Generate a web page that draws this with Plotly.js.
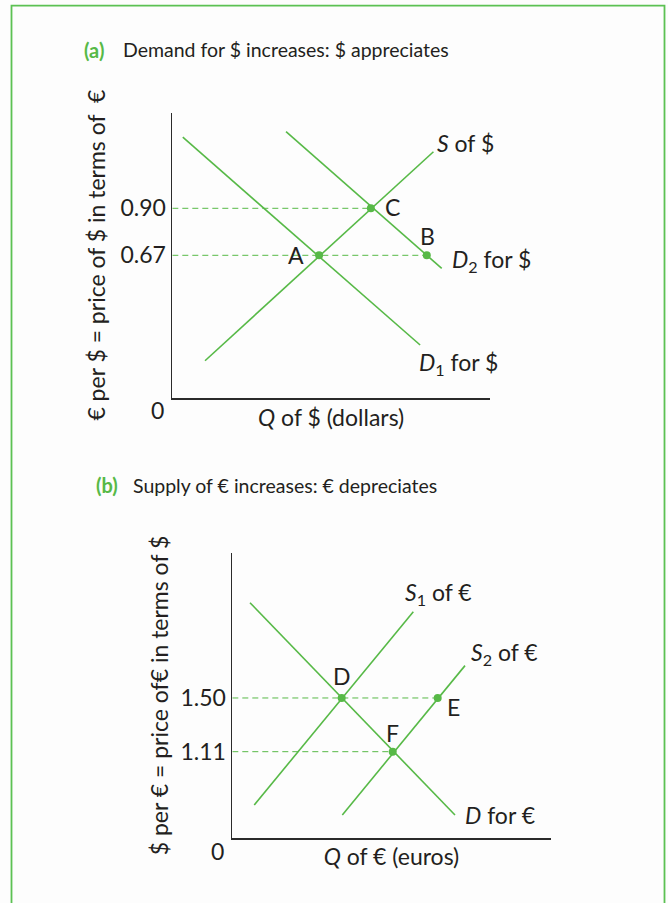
<!DOCTYPE html>
<html><head><meta charset="utf-8">
<script src="https://cdn.plot.ly/plotly-3.0.1.min.js"></script>
<style>html,body{margin:0;padding:0;background:#fdfdfd}</style>
</head><body><div id="chart" style="width:668px;height:903px"></div>
<script>
// ---------- Panel (a): market for dollars ----------
const aTitle = 'Demand for $ increases: $ appreciates';
const aSupplyQ = [1.03, 8.22], aSupplyP = [0.154, 1.177];
const aD1Q = [0.33, 7.80], aD1P = [1.248, 0.231];
const aD2Q = [3.58, 8.48], aD2P = [1.275, 0.606];
const aPointNames = ['A', 'C', 'B'];
const aPointQ = [4.62, 6.25, 8.01];
const aPointP = [0.67, 0.90, 0.67];
const aTickVals = [0.67, 0.90];
const aTickText = ['0.67', '0.90'];
const aCurveLabels = ['<i>S</i> of $', '<i>D</i><sub>2</sub> for $', '<i>D</i><sub>1</sub> for $'];
const aCurveLabelQ = [8.27, 8.74, 7.69];
const aCurveLabelP = [1.22, 0.647, 0.141];

// ---------- Panel (b): market for euros ----------
const bTitle = 'Supply of € increases: € depreciates';
const bS1Q = [0.69, 5.685], bS1P = [0.723, 2.127];
const bS2Q = [3.455, 7.308], bS2P = [0.65, 1.735];
const bDQ = [0.556, 6.994], bDP = [2.192, 0.65];
const bPointNames = ['D', 'E', 'F'];
const bPointQ = [3.436, 6.451, 5.038];
const bPointP = [1.50, 1.50, 1.11];
const bTickVals = [1.11, 1.50];
const bTickText = ['1.11', '1.50'];
const bCurveLabels = ['<i>S</i><sub>1</sub> of €', '<i>S</i><sub>2</sub> of €', '<i>D</i> for €'];
const bCurveLabelQ = [5.36, 7.43, 7.24];
const bCurveLabelP = [2.26, 1.825, 0.65];

// ---------- styles ----------
const GREEN = '#57b947';
const TEXT = '#231f20';
const FONT = 'Lato, "Open Sans", sans-serif';
const W = 668, H = 903;
const FS = 23;

function line(q, p, xa, ya) {
  return {x: q, y: p, xaxis: xa, yaxis: ya, mode: 'lines', type: 'scatter',
    line: {color: GREEN, width: 1.6}, hoverinfo: 'skip', showlegend: false};
}
function dashes(q, p, xa, ya) {
  const out = [];
  const levels = [...new Set(p)];
  levels.forEach(lv => {
    let m = 0;
    q.forEach((v, i) => { if (p[i] === lv && v > m) m = v; });
    out.push({x: [0, m], y: [lv, lv], xaxis: xa, yaxis: ya, mode: 'lines', type: 'scatter',
      line: {color: GREEN, width: 1, dash: '6px,4px'}, hoverinfo: 'skip', showlegend: false});
  });
  return out;
}
function pts(q, p, xa, ya) {
  return {x: q, y: p, xaxis: xa, yaxis: ya, mode: 'markers', type: 'scatter',
    marker: {color: GREEN, size: 8}, hoverinfo: 'skip', showlegend: false};
}

const data = [
  ...dashes(aPointQ, aPointP, 'x', 'y'),
  line(aSupplyQ, aSupplyP, 'x', 'y'),
  line(aD1Q, aD1P, 'x', 'y'),
  line(aD2Q, aD2P, 'x', 'y'),
  pts(aPointQ, aPointP, 'x', 'y'),
  ...dashes(bPointQ, bPointP, 'x2', 'y2'),
  line(bS1Q, bS1P, 'x2', 'y2'),
  line(bS2Q, bS2P, 'x2', 'y2'),
  line(bDQ, bDP, 'x2', 'y2'),
  pts(bPointQ, bPointP, 'x2', 'y2')
];

const dx = (a, b) => [a / W, b / W];
const dy = (top, bottom) => [1 - bottom / H, 1 - top / H];

const axisCommon = {showgrid: false, zeroline: false, showline: true, linecolor: '#2b2b2b',
  linewidth: 1.8, ticks: '', fixedrange: true};
const tf = {family: FONT, size: FS, color: TEXT};

const annotations = [];
annotations.push({xref: 'paper', yref: 'paper', x: 82 / W, y: 1 - 50 / H, xanchor: 'left', yanchor: 'middle',
  text: '<b>(a)</b>', showarrow: false, font: {family: FONT, size: 20, color: GREEN}});
annotations.push({xref: 'paper', yref: 'paper', x: 121 / W, y: 1 - 50 / H, xanchor: 'left', yanchor: 'middle',
  text: aTitle, showarrow: false, font: {family: FONT, size: 19.5, color: TEXT}});
annotations.push({xref: 'paper', yref: 'paper', x: 94 / W, y: 1 - 485 / H, xanchor: 'left', yanchor: 'middle',
  text: '<b>(b)</b>', showarrow: false, font: {family: FONT, size: 20, color: GREEN}});
annotations.push({xref: 'paper', yref: 'paper', x: 131 / W, y: 1 - 485 / H, xanchor: 'left', yanchor: 'middle',
  text: bTitle, showarrow: false, font: {family: FONT, size: 19.5, color: TEXT}});

annotations.push({xref: 'x', yref: 'y domain', x: 0, y: 0, xanchor: 'right', yanchor: 'top',
  xshift: -6, yshift: 4, text: '0', showarrow: false, font: tf});
annotations.push({xref: 'x2', yref: 'y2 domain', x: 0, y: 0, xanchor: 'right', yanchor: 'top',
  xshift: -6, yshift: 3, text: '0', showarrow: false, font: tf});

aCurveLabels.forEach((t, i) => annotations.push({xref: 'x', yref: 'y', x: aCurveLabelQ[i], y: aCurveLabelP[i],
  xanchor: 'left', yanchor: 'middle', text: t, showarrow: false, font: tf}));
bCurveLabels.forEach((t, i) => annotations.push({xref: 'x2', yref: 'y2', x: bCurveLabelQ[i], y: bCurveLabelP[i],
  xanchor: 'left', yanchor: 'middle', text: t, showarrow: false, font: tf}));

const aShift = {A: [-23, 0], C: [22, 1], B: [1, 19]};
const bShift = {D: [0, 22], E: [16, -9], F: [0, 19]};
aPointNames.forEach((n, i) => annotations.push({xref: 'x', yref: 'y', x: aPointQ[i], y: aPointP[i],
  xshift: aShift[n][0], yshift: aShift[n][1], text: n, showarrow: false, font: tf}));
bPointNames.forEach((n, i) => annotations.push({xref: 'x2', yref: 'y2', x: bPointQ[i], y: bPointP[i],
  xshift: bShift[n][0], yshift: bShift[n][1], text: n, showarrow: false, font: tf}));

const layout = {
  width: W, height: H, margin: {l: 0, r: 0, t: 0, b: 0},
  paper_bgcolor: '#fdfdfd', plot_bgcolor: 'rgba(0,0,0,0)',
  font: tf, showlegend: false,
  xaxis: Object.assign({}, axisCommon, {domain: dx(172.3, 490), range: [0, 10], showticklabels: false,
    anchor: 'y', title: {text: '<i>Q</i> of $ (dollars)', standoff: 11, font: tf}}),
  yaxis: Object.assign({}, axisCommon, {domain: dy(112.7, 397.7), range: [-0.027, 1.368], anchor: 'x',
    tickvals: aTickVals, ticktext: aTickText, ticklabelstandoff: 0, tickfont: tf,
    title: {text: '€ per $ = price of $ in terms of  €', standoff: 8, font: tf}}),
  xaxis2: Object.assign({}, axisCommon, {domain: dx(232.3, 550.7), range: [0, 10], showticklabels: false,
    anchor: 'y2', title: {text: '<i>Q</i> of € (euros)', standoff: 10, font: tf}}),
  yaxis2: Object.assign({}, axisCommon, {domain: dy(552.7, 838.3), range: [0.481, 2.555], anchor: 'x2',
    tickvals: bTickVals, ticktext: bTickText, ticklabelstandoff: 0, tickfont: tf,
    title: {text: '$ per € = price of€ in terms of $', standoff: 5, font: tf}}),
  annotations: annotations,
  shapes: [{type: 'path', xref: 'paper', yref: 'paper', layer: 'below',
    path: `M ${11.5 / W} 0 L ${11.5 / W} ${1 - 5.7 / H} L ${664.5 / W} ${1 - 5.7 / H} L ${664.5 / W} 0`,
    line: {color: '#5cc153', width: 1.8}}]
};

Plotly.newPlot('chart', data, layout, {staticPlot: true, displayModeBar: false});
</script></body></html>
